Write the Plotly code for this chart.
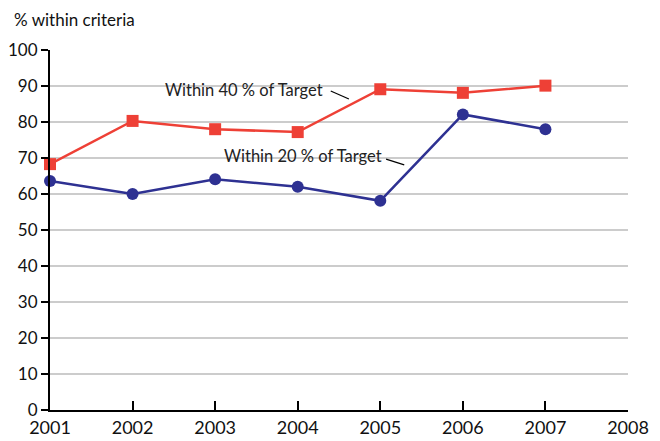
import plotly.graph_objects as go

years = [2001, 2002, 2003, 2004, 2005, 2006, 2007]
within_40 = [68.3, 80.3, 78.0, 77.2, 89.1, 88.1, 90.1]
within_20 = [63.6, 60.0, 64.1, 62.0, 58.1, 82.1, 78.0]
tick_years = [2001, 2002, 2003, 2004, 2005, 2006, 2007, 2008]

RED = "#ee4036"
BLUE = "#2e3192"
FONT = "Lato, 'Open Sans', sans-serif"

fig = go.Figure()
fig.add_trace(go.Scatter(
    x=years, y=within_40, mode="lines+markers", cliponaxis=False,
    line=dict(color=RED, width=2.5),
    marker=dict(symbol="square", size=12, color=RED),
))
fig.add_trace(go.Scatter(
    x=years, y=within_20, mode="lines+markers", cliponaxis=False,
    line=dict(color=BLUE, width=2.5),
    marker=dict(symbol="circle", size=12, color=BLUE),
))

# labels with leader lines
fig.add_annotation(x=2003.35, y=88.9, text="Within 40 % of Target", showarrow=False,
                   font=dict(size=16.5, color="#222"))
fig.add_annotation(x=2004.06, y=70.6, text="Within 20 % of Target", showarrow=False,
                   font=dict(size=16.5, color="#222"))
fig.add_shape(type="line", x0=2004.40, y0=88.6, x1=2004.62, y1=86.4,
              line=dict(color="black", width=1.2))
fig.add_shape(type="line", x0=2005.07, y0=69.7, x1=2005.29, y1=68.1,
              line=dict(color="black", width=1.2))

fig.add_annotation(xref="paper", yref="paper", x=-0.066, y=1.085, xanchor="left",
                   yanchor="middle", text="% within criteria", showarrow=False,
                   font=dict(size=17, color="#111"))

fig.update_xaxes(
    range=[2001, 2008], tickvals=tick_years, ticktext=[str(t) for t in tick_years],
    showgrid=False, showline=True, linecolor="black", linewidth=2,
    ticks="inside", ticklen=9, tickwidth=2, tickcolor="black",
    tickfont=dict(size=18, color="#111"), zeroline=False, automargin=False,
)
fig.update_yaxes(
    range=[0, 100], dtick=10, showgrid=True, gridcolor="#cccccc", gridwidth=2,
    showline=True, linecolor="black", linewidth=2,
    ticks="outside", ticklen=7, tickwidth=2, tickcolor="black",
    tickfont=dict(size=17, color="#111"), zeroline=False, automargin=False,
)
# page is offset by the browser's body margin, so margins are shifted to match
fig.update_layout(
    width=660, height=441, showlegend=False,
    margin=dict(l=42, r=40, t=42, b=39),
    plot_bgcolor="white", paper_bgcolor="white",
    font=dict(family=FONT),
)
fig.write_html("out.html")
